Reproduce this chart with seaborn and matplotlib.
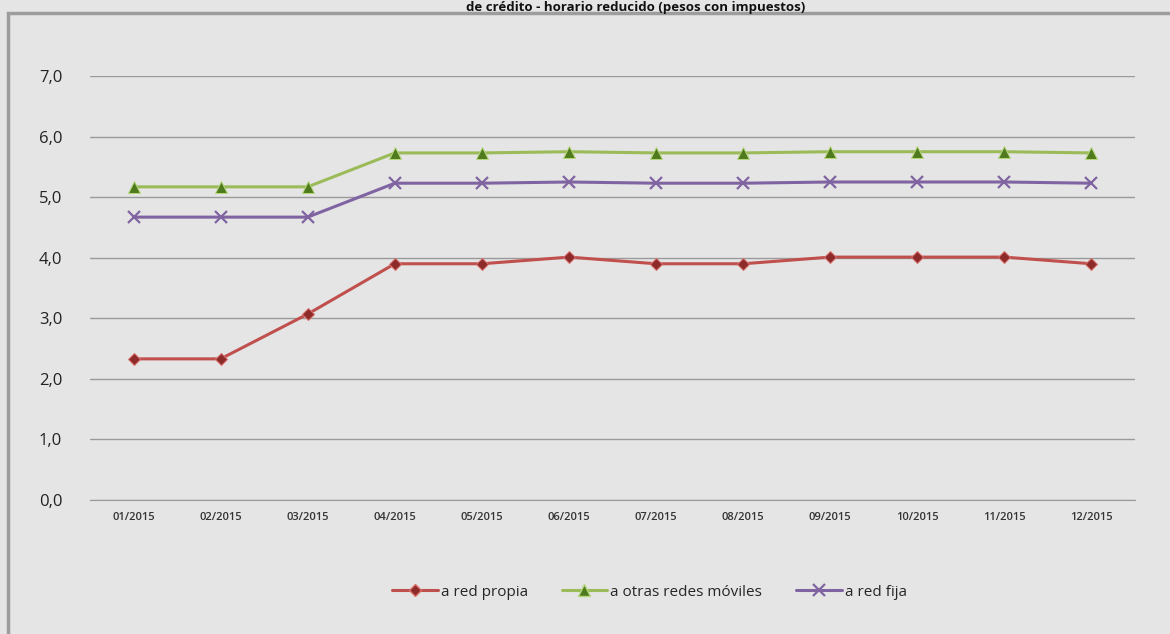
import numpy as np
import pandas as pd
import matplotlib
matplotlib.use("Agg")
import matplotlib.pyplot as plt
import seaborn as sns
from matplotlib.lines import Line2D
from matplotlib.patches import Rectangle
from matplotlib.ticker import FuncFormatter

# data
months = ["01/2015", "02/2015", "03/2015", "04/2015", "05/2015", "06/2015",
          "07/2015", "08/2015", "09/2015", "10/2015", "11/2015", "12/2015"]
red_propia = [2.33, 2.33, 3.07, 3.90, 3.90, 4.01, 3.90, 3.90, 4.01, 4.01, 4.01, 3.90]
otras_moviles = [5.17, 5.17, 5.17, 5.73, 5.73, 5.75, 5.73, 5.73, 5.75, 5.75, 5.75, 5.73]
red_fija = [4.67, 4.67, 4.67, 5.23, 5.23, 5.25, 5.23, 5.23, 5.25, 5.25, 5.25, 5.23]

series_names = ["a red propia", "a otras redes móviles", "a red fija"]
title = "de crédito - horario reducido (pesos con impuestos)"

df = pd.DataFrame({"mes": months * 3,
                   "serie": np.repeat(series_names, len(months)),
                   "valor": red_propia + otras_moviles + red_fija})
df["x"] = np.tile(np.arange(len(months)), 3)

styles = {
    "a red propia": dict(color="#c0504d", marker="D", markersize=6,
                         markerfacecolor="#8c2b29", markeredgecolor="#d9706d"),
    "a otras redes móviles": dict(color="#9bbb59", marker="^", markersize=9,
                                  markerfacecolor="#4f7a1e", markeredgecolor="#b5d67a"),
    "a red fija": dict(color="#8064a2", marker="x", markersize=8,
                       markeredgewidth=1.6, markeredgecolor="#8064a2"),
}

sns.set_style("white")
plt.rcParams["font.family"] = ["Open Sans", "DejaVu Sans"]

bg = "#e5e5e5"
fig = plt.figure(figsize=(11.7, 6.34), dpi=100, facecolor=bg)
ax = fig.add_axes([90 / 1170, 1 - 500 / 634, 1045 / 1170, 424 / 634])
ax.set_facecolor(bg)

for name in series_names:
    sub = df[df["serie"] == name]
    sns.lineplot(data=sub, x="x", y="valor", ax=ax, linewidth=2.2,
                 legend=False, zorder=3, **styles[name])

ax.set_xlim(-0.5, len(months) - 0.5)
ax.set_ylim(0, 7)
ax.set_yticks(np.arange(0, 8, 1))
ax.yaxis.set_major_formatter(FuncFormatter(lambda v, p: f"{v:.1f}".replace(".", ",")))
ax.set_xticks(range(len(months)))
ax.set_xticklabels(months, fontsize=8, color="#333333", fontweight="semibold")
ax.tick_params(axis="y", labelsize=12, pad=20, length=0, labelcolor="#222222")
ax.tick_params(axis="x", pad=9, length=0)
ax.grid(axis="y", color="#9a9a9a", linewidth=1)
ax.set_axisbelow(True)
for s in ["top", "right", "left"]:
    ax.spines[s].set_visible(False)
ax.spines["bottom"].set_color("#9a9a9a")
ax.set_xlabel("")
ax.set_ylabel("")

handles = [Line2D([0], [0], linewidth=2.2, **styles[n]) for n in series_names]
fig.legend(handles, series_names, loc="center", ncol=3,
           bbox_to_anchor=(0.555, 1 - 592 / 634), frameon=False,
           fontsize=11, handlelength=3, columnspacing=2.2, handletextpad=0.2)

# chart frame
fig.add_artist(Rectangle((8 / 1170, -0.05), 1.2, 0.05 + 1 - 13 / 634,
                         transform=fig.transFigure, fill=False,
                         edgecolor="#9d9d9d", linewidth=2.5))

fig.text(0.543, 1 - 1 / 634, title, ha="center", va="top",
         fontsize=9.5, fontweight="bold", color="#111111")

fig.savefig("out.png", dpi=100, facecolor=bg)
